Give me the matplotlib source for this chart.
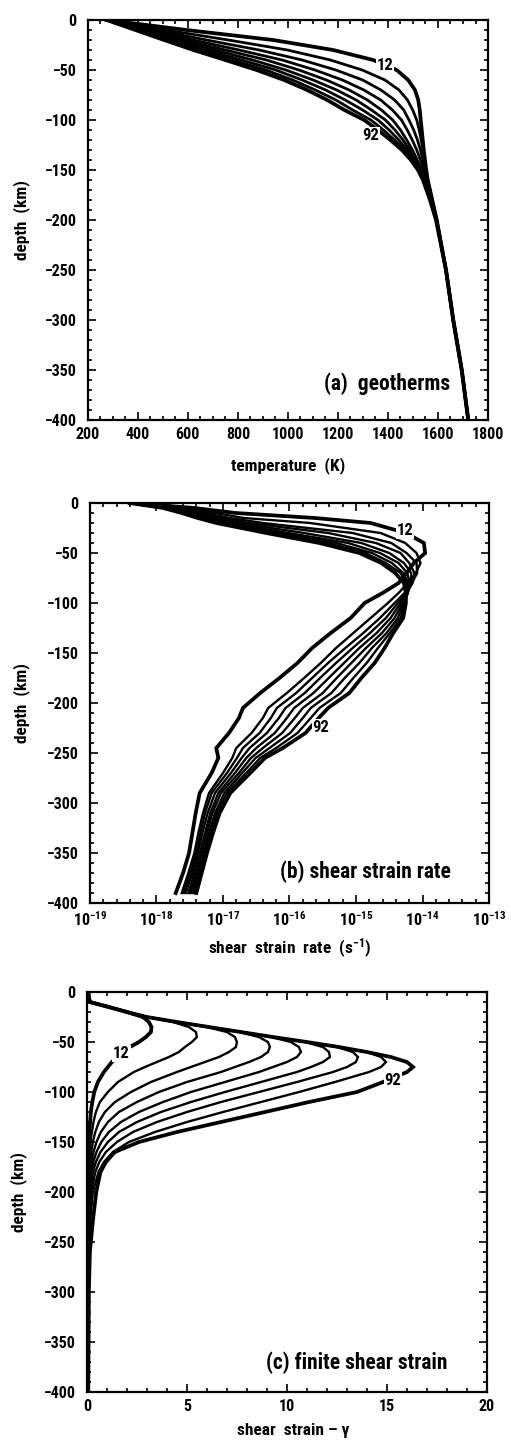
import numpy as np
import matplotlib
matplotlib.use("Agg")
import matplotlib.pyplot as plt
from matplotlib import font_manager
from matplotlib.ticker import MultipleLocator, FixedLocator, NullFormatter

# --- FONTS: pick a narrow bold face if one is installed ---
installed = {f.name for f in font_manager.fontManager.ttflist}
main_font = next((f for f in ["Liberation Sans Narrow", "Roboto Condensed",
                              "Open Sans Condensed", "Liberation Sans"] if f in installed),
                 "DejaVu Sans")
plt.rcParams['font.family'] = [main_font, 'DejaVu Sans']
plt.rcParams['font.weight'] = 'bold'
plt.rcParams['axes.labelweight'] = 'bold'
plt.rcParams['mathtext.fontset'] = 'custom'
plt.rcParams['mathtext.rm'] = main_font + ':bold'
plt.rcParams['mathtext.bf'] = main_font + ':bold'
plt.rcParams['mathtext.it'] = main_font + ':bold'

# --- DATA ---
ages = [12, 22, 32, 42, 52, 62, 72, 82, 92]

# (a) geotherms: temperature (K) at depth (km)
depth_a = [0, -10, -20, -30, -40, -50, -60, -70, -80, -90, -100, -110, -120,
           -130, -140, -150, -160, -180, -200]
tail_depth_a = [-250, -300, -350, -400]
tail_temp_a = [1632, 1661, 1695, 1721]
temp_12 = [275, 595, 941, 1181, 1341, 1435, 1481, 1508, 1521, 1527, 1531, 1535, 1539, 1543, 1548, 1553, 1559, 1577, 1595]
temp_22 = [275, 511, 762, 998, 1170, 1297, 1388, 1444, 1478, 1499, 1515, 1525, 1533, 1540, 1546, 1552, 1558, 1577, 1595]
temp_32 = [275, 471, 674, 885, 1057, 1192, 1299, 1372, 1427, 1463, 1484, 1503, 1518, 1530, 1540, 1548, 1556, 1576, 1595]
temp_42 = [275, 446, 620, 805, 977, 1108, 1218, 1304, 1371, 1418, 1454, 1477, 1497, 1515, 1530, 1542, 1552, 1574, 1595]
temp_52 = [275, 429, 582, 750, 914, 1044, 1154, 1245, 1318, 1374, 1419, 1450, 1475, 1498, 1517, 1533, 1548, 1572, 1594]
temp_62 = [275, 416, 557, 708, 859, 992, 1101, 1195, 1273, 1334, 1390, 1428, 1460, 1487, 1508, 1528, 1545, 1571, 1594]
temp_72 = [275, 406, 536, 674, 815, 951, 1057, 1151, 1229, 1299, 1360, 1405, 1443, 1476, 1502, 1525, 1543, 1570, 1593]
temp_82 = [275, 398, 520, 647, 780, 911, 1019, 1110, 1192, 1259, 1332, 1382, 1426, 1466, 1497, 1522, 1541, 1569, 1593]
temp_92 = [275, 390, 505, 622, 750, 875, 985, 1077, 1157, 1226, 1305, 1360, 1410, 1456, 1492, 1520, 1540, 1568, 1592]
temps = [temp_12, temp_22, temp_32, temp_42, temp_52, temp_62, temp_72, temp_82, temp_92]

# (b) shear strain rate: log10(rate, s^-1) at depth (km)
depth_b = [0, -5, -10, -15, -20, -30, -40, -50, -60, -70, -80, -90, -100, -115, -130,
           -145, -160, -175, -190, -205, -215, -230, -245, -255, -270, -290, -310,
           -330, -350, -370, -390]
lograte_12 = [-18.40, -17.43, -16.81, -15.62, -14.78, -14.25, -13.98, -13.96, -14.13, -14.24, -14.36, -14.60, -14.87, -15.08, -15.38, -15.66, -15.88, -16.15, -16.44, -16.70, -16.76, -16.91, -17.10, -17.07, -17.17, -17.35, -17.41, -17.46, -17.51, -17.60, -17.71]
lograte_22 = [-18.40, -17.61, -17.11, -16.69, -15.69, -14.63, -14.26, -14.09, -14.03, -14.10, -14.22, -14.36, -14.52, -14.78, -15.04, -15.30, -15.53, -15.78, -16.04, -16.32, -16.40, -16.57, -16.80, -16.86, -17.00, -17.21, -17.30, -17.37, -17.43, -17.52, -17.62]
lograte_32 = [-18.40, -17.70, -17.27, -16.90, -16.40, -15.05, -14.47, -14.24, -14.09, -14.08, -14.16, -14.27, -14.42, -14.64, -14.89, -15.16, -15.42, -15.66, -15.90, -16.19, -16.28, -16.45, -16.70, -16.79, -16.94, -17.17, -17.27, -17.34, -17.40, -17.49, -17.59]
lograte_42 = [-18.40, -17.76, -17.38, -17.03, -16.62, -15.42, -14.70, -14.33, -14.20, -14.12, -14.15, -14.24, -14.37, -14.55, -14.79, -15.05, -15.30, -15.54, -15.77, -16.06, -16.16, -16.34, -16.60, -16.72, -16.88, -17.12, -17.23, -17.31, -17.38, -17.46, -17.56]
lograte_52 = [-18.40, -17.79, -17.46, -17.13, -16.78, -15.78, -14.92, -14.50, -14.28, -14.17, -14.17, -14.23, -14.33, -14.48, -14.69, -14.95, -15.18, -15.41, -15.64, -15.93, -16.04, -16.22, -16.50, -16.65, -16.82, -17.07, -17.19, -17.27, -17.35, -17.43, -17.52]
lograte_62 = [-18.40, -17.82, -17.51, -17.21, -16.90, -16.02, -15.12, -14.64, -14.36, -14.23, -14.19, -14.22, -14.30, -14.42, -14.61, -14.85, -15.07, -15.29, -15.50, -15.80, -15.92, -16.11, -16.40, -16.58, -16.76, -17.03, -17.16, -17.24, -17.32, -17.40, -17.49]
lograte_72 = [-18.40, -17.84, -17.56, -17.27, -16.98, -16.17, -15.30, -14.76, -14.46, -14.29, -14.21, -14.22, -14.28, -14.37, -14.54, -14.76, -14.95, -15.17, -15.37, -15.68, -15.80, -15.99, -16.30, -16.51, -16.71, -16.98, -17.12, -17.21, -17.29, -17.38, -17.46]
lograte_82 = [-18.40, -17.88, -17.59, -17.33, -17.05, -16.27, -15.43, -14.86, -14.55, -14.33, -14.24, -14.23, -14.26, -14.33, -14.49, -14.67, -14.84, -15.04, -15.23, -15.55, -15.68, -15.88, -16.20, -16.44, -16.65, -16.94, -17.09, -17.18, -17.27, -17.35, -17.43]
lograte_92 = [-18.40, -17.90, -17.62, -17.38, -17.10, -16.35, -15.55, -14.95, -14.62, -14.41, -14.28, -14.25, -14.25, -14.29, -14.44, -14.57, -14.72, -14.92, -15.10, -15.42, -15.56, -15.76, -16.10, -16.37, -16.59, -16.89, -17.05, -17.15, -17.24, -17.32, -17.40]
lograte = [lograte_12, lograte_22, lograte_32, lograte_42, lograte_52, lograte_62, lograte_72, lograte_82, lograte_92]

# (c) finite shear strain at depth (km)
depth_c = [0, -5, -10, -15, -20, -25, -30, -35, -40, -45, -50, -55, -60, -65, -70, -75,
           -80, -90, -100, -110, -120, -130, -140, -150, -160, -170, -180, -200, -225,
           -260, -300, -400]
gamma_12 = [0.07, 0.1, 0.15, 1.1, 2.0, 2.8, 3.1, 3.23, 3.2, 2.95, 2.6, 2.15, 1.8, 1.5, 1.25, 1.05, 0.85, 0.55, 0.37, 0.27, 0.2, 0.16, 0.13, 0.1, 0.09, 0.08, 0.08, 0.07, 0.07, 0.06, 0.06, 0.05]
gamma_22 = [0.07, 0.1, 0.15, 1.1, 2.0, 3.0, 4.3, 5.1, 5.45, 5.5, 5.25, 4.9, 4.6, 4.1, 3.5, 2.9, 2.35, 1.55, 1.05, 0.65, 0.45, 0.33, 0.25, 0.18, 0.14, 0.11, 0.1, 0.09, 0.08, 0.07, 0.06, 0.05]
gamma_32 = [0.07, 0.1, 0.15, 1.1, 2.0, 3.0, 4.5, 6.0, 7.0, 7.4, 7.5, 7.45, 7.1, 6.6, 5.9, 5.2, 4.5, 3.2, 2.2, 1.4, 0.9, 0.6, 0.42, 0.3, 0.22, 0.16, 0.13, 0.1, 0.09, 0.08, 0.07, 0.05]
gamma_42 = [0.07, 0.1, 0.15, 1.1, 2.0, 3.0, 4.5, 6.1, 7.6, 8.6, 9.05, 9.15, 9.05, 8.7, 8.1, 7.4, 6.7, 5.0, 3.6, 2.5, 1.6, 1.05, 0.7, 0.48, 0.33, 0.23, 0.17, 0.12, 0.1, 0.09, 0.07, 0.05]
gamma_52 = [0.07, 0.1, 0.15, 1.1, 2.0, 3.0, 4.5, 6.1, 7.7, 9.2, 10.2, 10.6, 10.7, 10.5, 10.0, 9.3, 8.6, 6.9, 5.2, 3.8, 2.6, 1.7, 1.1, 0.72, 0.48, 0.32, 0.23, 0.14, 0.11, 0.09, 0.07, 0.06]
gamma_62 = [0.07, 0.1, 0.15, 1.1, 2.0, 3.0, 4.5, 6.1, 7.7, 9.3, 10.9, 11.8, 12.1, 12.15, 11.8, 11.2, 10.5, 8.7, 6.9, 5.2, 3.7, 2.5, 1.6, 1.05, 0.68, 0.45, 0.3, 0.17, 0.12, 0.1, 0.08, 0.06]
gamma_72 = [0.07, 0.1, 0.15, 1.1, 2.0, 3.0, 4.5, 6.1, 7.7, 9.3, 11.0, 12.5, 13.3, 13.55, 13.45, 13.0, 12.3, 10.5, 8.6, 6.7, 5.0, 3.5, 2.3, 1.5, 0.95, 0.62, 0.42, 0.22, 0.14, 0.11, 0.08, 0.06]
gamma_82 = [0.07, 0.1, 0.15, 1.1, 2.0, 3.0, 4.5, 6.1, 7.7, 9.3, 11.0, 12.6, 14.0, 14.7, 14.95, 14.7, 14.1, 12.4, 10.6, 8.7, 6.8, 5.0, 3.4, 2.1, 1.3, 0.85, 0.58, 0.3, 0.18, 0.12, 0.09, 0.06]
gamma_92 = [0.07, 0.1, 0.15, 1.1, 2.0, 3.0, 4.5, 6.1, 7.7, 9.3, 11.0, 12.6, 14.0, 15.2, 16.0, 16.3, 16.0, 14.8, 13.5, 11.1, 8.9, 6.7, 4.5, 2.6, 1.4, 0.95, 0.68, 0.47, 0.32, 0.15, 0.1, 0.07]
gammas = [gamma_12, gamma_22, gamma_32, gamma_42, gamma_52, gamma_62, gamma_72, gamma_82, gamma_92]

# curve labels: (x, depth) for the youngest and oldest curve
labels_a = {"12": (1388, -45), "92": (1330, -115)}
labels_b = {"12": (10 ** -14.26, -27.5), "92": (10 ** -15.53, -224)}
labels_c = {"12": (1.73, -61.5), "92": (15.3, -88)}


# --- HELPERS ---
def style_axes(ax, ylabel_x, xlabel_xy):
    ax.set_ylim(-400, 0)
    ax.yaxis.set_major_locator(MultipleLocator(50))
    ax.yaxis.set_minor_locator(MultipleLocator(10))
    ax.tick_params(which="both", direction="in", top=True, right=True,
                   labelsize=11.5, width=1.2)
    ax.tick_params(axis="x", which="major", pad=5)
    ax.tick_params(axis="y", which="major", pad=8)
    ax.tick_params(which="major", length=6)
    ax.tick_params(which="minor", length=3)
    for s in ax.spines.values():
        s.set_linewidth(1.6)
    ax.set_ylabel("depth  (km)", fontsize=12.5)
    ax.yaxis.set_label_coords(ylabel_x, 0.5)
    ax.yaxis.label.set_va("center")
    ax.xaxis.set_label_coords(*xlabel_xy)
    ax.xaxis.label.set_va("center")


def draw_curves(ax, xs_list, depth, lw_mid=1.7):
    for i, xs in enumerate(xs_list):
        lw = 2.7 if i in (0, len(xs_list) - 1) else lw_mid
        ax.plot(xs, depth, color="black", lw=lw, solid_joinstyle="miter")


def put_labels(ax, labels):
    for txt, (x, y) in labels.items():
        ax.text(x, y, txt, fontsize=12, ha="center", va="center", zorder=5,
                bbox=dict(facecolor="white", edgecolor="none", pad=0.6))


fig = plt.figure(figsize=(5.11, 14.4), dpi=100)

# --- (a) GEOTHERMS ---
ax1 = fig.add_axes([0.172, 0.7083, 0.783, 0.2778])
draw_curves(ax1, [t + tail_temp_a for t in temps], depth_a + tail_depth_a, lw_mid=2.0)
put_labels(ax1, labels_a)
ax1.set_xlim(200, 1800)
ax1.xaxis.set_major_locator(MultipleLocator(200))
ax1.xaxis.set_minor_locator(MultipleLocator(50))
ax1.set_xlabel("temperature  (K)", fontsize=12.5)
style_axes(ax1, -0.165, (0.5, -0.1125))
ax1.text(0.905, 0.09, "(a)  geotherms", transform=ax1.transAxes,
         ha="right", va="center", fontsize=15.5)

# --- (b) SHEAR STRAIN RATE ---
ax2 = fig.add_axes([0.176, 0.3729, 0.781, 0.2778])
draw_curves(ax2, [10 ** np.array(r) for r in lograte], depth_b)
put_labels(ax2, labels_b)
ax2.set_xscale("log")
ax2.set_xlim(1e-19, 1e-13)
decades = list(range(-19, -12))
ax2.xaxis.set_major_locator(FixedLocator([10.0 ** k for k in decades]))
ax2.xaxis.set_minor_locator(FixedLocator([10.0 ** (k + j / 5) for k in decades[:-1] for j in range(1, 5)]))
ax2.xaxis.set_minor_formatter(NullFormatter())
ax2.set_xticklabels([r"$10^{%d}$" % k for k in decades])
ax2.set_xlabel(r"shear  strain  rate  (s$^{-1}$)", fontsize=12.5)
style_axes(ax2, -0.171, (0.5, -0.1125))
ax2.text(0.905, 0.078, "(b) shear strain rate", transform=ax2.transAxes,
         ha="right", va="center", fontsize=15.5)

# --- (c) FINITE SHEAR STRAIN ---
ax3 = fig.add_axes([0.170, 0.0333, 0.783, 0.2778])
draw_curves(ax3, gammas, depth_c)
put_labels(ax3, labels_c)
ax3.set_xlim(0, 20)
ax3.xaxis.set_major_locator(MultipleLocator(5))
ax3.xaxis.set_minor_locator(MultipleLocator(1))
ax3.set_xlabel("shear  strain \u2013 \u03b3", fontsize=12.5)
style_axes(ax3, -0.172, (0.515, -0.095))
ax3.text(0.9, 0.072, "(c) finite shear strain", transform=ax3.transAxes,
         ha="right", va="center", fontsize=15.5)

fig.savefig("out.png", dpi=100)
